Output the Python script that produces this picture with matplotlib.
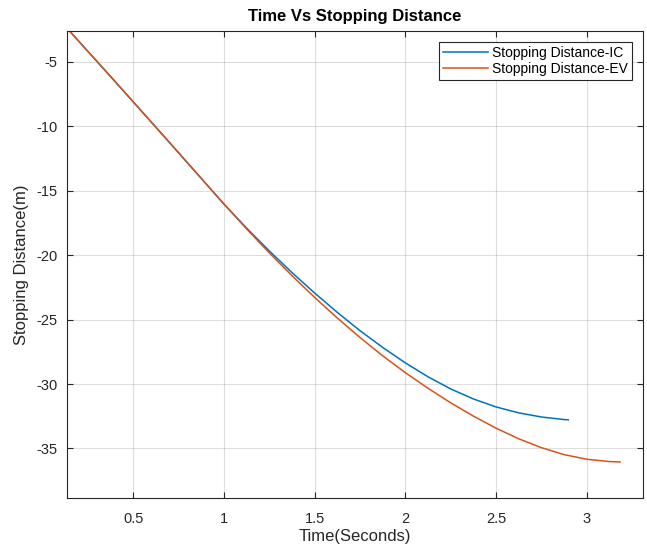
import numpy as np
import matplotlib
matplotlib.use('Agg')
import matplotlib.pyplot as plt

plt.rcParams['font.family'] = ['Liberation Sans', 'DejaVu Sans']
plt.rcParams['axes.unicode_minus'] = False

# values
t_ic = [0.149, 0.25, 0.375, 0.5, 0.625, 0.75, 0.875, 1.0, 1.125, 1.25, 1.375, 1.5,
        1.625, 1.75, 1.875, 2.0, 2.125, 2.25, 2.375, 2.5, 2.625, 2.75, 2.875, 2.898]
d_ic = [-2.6, -4.18, -6.13, -8.1, -10.07, -12.05, -14.04, -16.03, -17.9, -19.67, -21.35, -22.94,
        -24.44, -25.86, -27.16, -28.36, -29.44, -30.38, -31.16, -31.78, -32.24, -32.56, -32.76, -32.78]

t_ev = [0.149, 0.25, 0.375, 0.5, 0.625, 0.75, 0.875, 1.0, 1.125, 1.25, 1.375, 1.5,
        1.625, 1.75, 1.875, 2.0, 2.125, 2.25, 2.375, 2.5, 2.625, 2.75, 2.875, 3.0, 3.125, 3.184]
d_ev = [-2.6, -4.18, -6.13, -8.1, -10.07, -12.05, -14.04, -16.03, -17.96, -19.82, -21.59, -23.28,
        -24.88, -26.39, -27.81, -29.12, -30.33, -31.46, -32.49, -33.43, -34.25, -34.94, -35.48, -35.84,
        -36.02, -36.05]

labels = ['Stopping Distance-IC', 'Stopping Distance-EV']
colors = ['#0072BD', '#D95319']

fig = plt.figure(figsize=(6.47, 5.5), dpi=100)
ax = fig.add_axes([0.1036, 0.0945, 0.8902, 0.8491])

ax.plot(t_ic, d_ic, color=colors[0], lw=1.1, label=labels[0])
ax.plot(t_ev, d_ev, color=colors[1], lw=1.1, label=labels[1])

ax.set_xlim(0.135, 3.31)
ax.set_ylim(-38.85, -2.6)
ax.set_xticks([0.5, 1, 1.5, 2, 2.5, 3])
ax.set_xticklabels(['0.5', '1', '1.5', '2', '2.5', '3'])
ax.set_yticks([-35, -30, -25, -20, -15, -10, -5])

ax.grid(True, color='#262626', alpha=0.15, lw=0.8)
for s in ax.spines.values():
    s.set_color('#262626')
    s.set_linewidth(0.8)
ax.tick_params(direction='in', top=True, right=True, length=4, width=0.8,
               colors='#262626', labelsize=10.5)
ax.tick_params(axis='x', pad=10)
ax.tick_params(axis='y', pad=7)

ax.set_xlabel('Time(Seconds)', fontsize=12, color='#262626', labelpad=2)
ax.set_ylabel('Stopping Distance(m)', fontsize=12, color='#262626', labelpad=5)
ax.set_title('Time Vs Stopping Distance', fontsize=12, fontweight='bold', pad=7)

leg = ax.legend(loc='upper right', fontsize=10, fancybox=False, framealpha=1,
                edgecolor='#262626', borderpad=0.3, handlelength=3.2,
                handletextpad=0.3, labelspacing=0.1, borderaxespad=0.8)
leg.get_frame().set_linewidth(0.8)

fig.savefig('out.png', dpi=100)
